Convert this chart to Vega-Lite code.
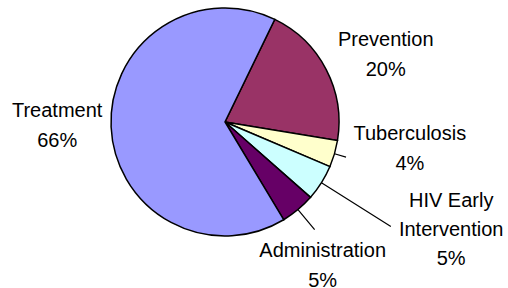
{
  "$schema": "https://vega.github.io/schema/vega-lite/v6.json",
  "width": 228,
  "height": 228,
  "autosize": {"type": "none"},
  "padding": {"left": 111, "top": 8, "right": 169, "bottom": 52},
  "background": "white",
  "view": {"stroke": null},
  "data": {
    "values": [
      {"category": "Prevention", "value": 20.4, "k": 1, "label": "Prevention\n20%"},
      {"category": "Tuberculosis", "value": 3.8, "k": 2, "label": "Tuberculosis\n4%"},
      {"category": "HIV Early Intervention", "value": 5.1, "k": 3, "label": "HIV Early\nIntervention\n5%"},
      {"category": "Administration", "value": 4.9, "k": 4, "label": "Administration\n5%"},
      {"category": "Treatment", "value": 65.8, "k": 5, "label": "Treatment\n66%"}
    ]
  },
  "transform": [
    {"stack": "value", "groupby": [], "sort": [{"field": "k"}], "as": ["v0", "v1"]},
    {"calculate": "(datum.v0 + datum.v1) / 2", "as": "mid"}
  ],
  "layer": [
    {
      "mark": {"type": "arc", "stroke": "black", "strokeWidth": 1.5},
      "encoding": {
        "theta": {"field": "v0", "type": "quantitative", "stack": null, "scale": {"domain": [0, 100], "range": [0.452, 6.7352]}},
        "theta2": {"field": "v1"},
        "color": {
          "field": "category", "type": "nominal", "legend": null,
          "scale": {
            "domain": ["Prevention", "Tuberculosis", "HIV Early Intervention", "Administration", "Treatment"],
            "range": ["#993366", "#FFFFCC", "#CCFFFF", "#660066", "#9999FF"]
          }
        }
      }
    },
    {
      "transform": [{"filter": "datum.category == 'HIV Early Intervention'"}],
      "mark": {"type": "arc", "radius": 196, "radius2": 114, "stroke": "black", "strokeWidth": 1.2, "fill": null},
      "encoding": {"theta": {"field": "mid", "type": "quantitative", "stack": null}, "theta2": {"field": "mid"}}
    },
    {
      "transform": [{"filter": "datum.category == 'Administration'"}],
      "mark": {"type": "arc", "radius": 140, "radius2": 114, "stroke": "black", "strokeWidth": 1.2, "fill": null},
      "encoding": {"theta": {"field": "mid", "type": "quantitative", "stack": null}, "theta2": {"field": "mid"}}
    },
    {
      "transform": [{"filter": "datum.category == 'Tuberculosis'"}],
      "mark": {"type": "arc", "radius": 126, "radius2": 114, "stroke": "black", "strokeWidth": 1.2, "fill": null},
      "encoding": {"theta": {"field": "mid", "type": "quantitative", "stack": null}, "theta2": {"field": "mid"}}
    },
    {
      "transform": [{"filter": "datum.category == 'Prevention'"}],
      "mark": {"type": "text", "radius": 181, "dx": 0, "dy": 1, "font": "Liberation Sans", "fontSize": 20, "lineBreak": "\n", "lineHeight": 30, "baseline": "middle", "align": "center", "color": "black"},
      "encoding": {"theta": {"field": "mid", "type": "quantitative", "stack": null}, "text": {"field": "label"}}
    },
    {
      "transform": [{"filter": "datum.category == 'Tuberculosis'"}],
      "mark": {"type": "text", "radius": 181, "dx": 11, "dy": -38, "font": "Liberation Sans", "fontSize": 20, "lineBreak": "\n", "lineHeight": 30, "baseline": "middle", "align": "center", "color": "black"},
      "encoding": {"theta": {"field": "mid", "type": "quantitative", "stack": null}, "text": {"field": "label"}}
    },
    {
      "transform": [{"filter": "datum.category == 'HIV Early Intervention'"}],
      "mark": {"type": "text", "radius": 233, "dx": 29, "dy": -45, "font": "Liberation Sans", "fontSize": 20, "lineBreak": "\n", "lineHeight": 29, "baseline": "middle", "align": "center", "color": "black"},
      "encoding": {"theta": {"field": "mid", "type": "quantitative", "stack": null}, "text": {"field": "label"}}
    },
    {
      "transform": [{"filter": "datum.category == 'Administration'"}],
      "mark": {"type": "text", "radius": 162, "dx": -6, "dy": 5, "font": "Liberation Sans", "fontSize": 20, "lineBreak": "\n", "lineHeight": 30, "baseline": "middle", "align": "center", "color": "black"},
      "encoding": {"theta": {"field": "mid", "type": "quantitative", "stack": null}, "text": {"field": "label"}}
    },
    {
      "transform": [{"filter": "datum.category == 'Treatment'"}],
      "mark": {"type": "text", "radius": 167, "dx": -1, "dy": -18, "font": "Liberation Sans", "fontSize": 20, "lineBreak": "\n", "lineHeight": 30, "baseline": "middle", "align": "center", "color": "black"},
      "encoding": {"theta": {"field": "mid", "type": "quantitative", "stack": null}, "text": {"field": "label"}}
    }
  ]
}
